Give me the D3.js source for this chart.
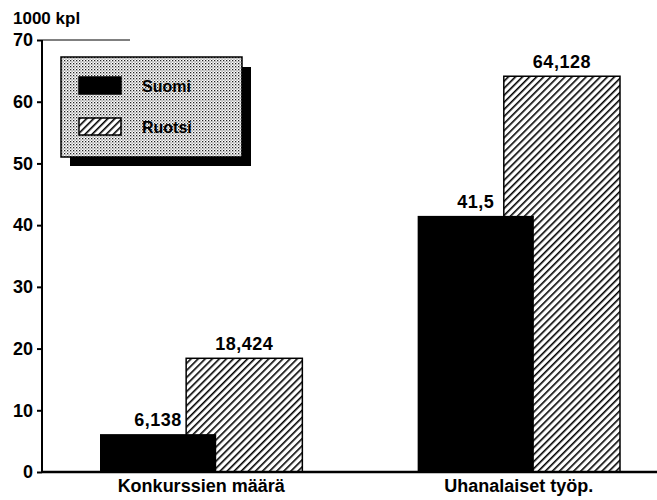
<!DOCTYPE html>
<html>
<head>
<meta charset="utf-8">
<script src="https://cdn.jsdelivr.net/npm/d3@7"></script>
<style>
  body { margin: 0; background: #fff; }
  text { font-family: "Liberation Sans", Arial, sans-serif; font-weight: bold; fill: #000; }
</style>
</head>
<body>
<svg width="657" height="500"></svg>
<script>
const categories = ["Konkurssien määrä", "Uhanalaiset työp."]
const series = ["Suomi", "Ruotsi"]
const suomi = [6.138, 41.5]
const ruotsi = [18.424, 64.128]
const suomiLabels = ["6,138", "41,5"]
const ruotsiLabels = ["18,424", "64,128"]
const yTicks = [0, 10, 20, 30, 40, 50, 60, 70]
const unitLabel = "1000 kpl"

const svg = d3.select("svg")
const width = +svg.attr("width")
const height = +svg.attr("height")

const margin = {top: 40, right: 0, bottom: 28, left: 42}
const innerWidth = width - margin.left - margin.right
const innerHeight = height - margin.top - margin.bottom

svg.append("rect").attr("width", width).attr("height", height).attr("fill", "#fff")

const defs = svg.append("defs")
const hatch = defs.append("pattern")
  .attr("id", "hatch")
  .attr("patternUnits", "userSpaceOnUse")
  .attr("width", 5).attr("height", 5)
  .attr("patternTransform", "rotate(45)")
hatch.append("rect").attr("width", 5).attr("height", 5).attr("fill", "#fff")
hatch.append("line")
  .attr("x1", 0).attr("y1", 0).attr("x2", 0).attr("y2", 5)
  .attr("stroke", "#000").attr("stroke-width", 3.2)

const dots = defs.append("pattern")
  .attr("id", "dots")
  .attr("patternUnits", "userSpaceOnUse")
  .attr("width", 3).attr("height", 3)
dots.append("rect").attr("width", 3).attr("height", 3).attr("fill", "#fff")
dots.append("rect").attr("x", 0).attr("y", 0).attr("width", 1.3).attr("height", 1.3).attr("fill", "#222")
dots.append("rect").attr("x", 1.5).attr("y", 1.5).attr("width", 1.1).attr("height", 1.1).attr("fill", "#555")

const g = svg.append("g")
  .attr("transform", `translate(${margin.left}, ${margin.top})`)

const yScale = d3.scaleLinear()
  .domain([0, 70])
  .range([innerHeight, 0])

const xScale = d3.scaleBand()
  .domain(categories)
  .range([58, 578])
  .paddingInner(0.363)
  .paddingOuter(0)

// bars in a group overlap: black one sits over the hatched one
const barWidth = xScale.bandwidth() * 116 / 202
const ruotsiOffset = xScale.bandwidth() * 86 / 202

const yAxis = d3.axisLeft(yScale)
  .tickValues(yTicks)
  .tickSize(5)
  .tickPadding(4)

const yAxisG = g.append("g").call(yAxis)
yAxisG.select(".domain").remove()
yAxisG.selectAll(".tick line").attr("stroke", "#000").attr("stroke-width", 2)
yAxisG.selectAll(".tick text").style("font-size", "18px")

g.append("line")
  .attr("x1", 0).attr("x2", 0)
  .attr("y1", 0).attr("y2", innerHeight)
  .attr("stroke", "#000").attr("stroke-width", 2)

g.append("line")
  .attr("x1", 0).attr("x2", 88)
  .attr("y1", 0).attr("y2", 0)
  .attr("stroke", "#000").attr("stroke-width", 1)

g.selectAll(".ruotsi").data(ruotsi)
  .enter().append("rect")
  .attr("class", "ruotsi")
  .attr("x", (d, i) => xScale(categories[i]) + ruotsiOffset)
  .attr("y", d => yScale(d))
  .attr("width", barWidth)
  .attr("height", d => innerHeight - yScale(d))
  .attr("fill", "url(#hatch)")
  .attr("stroke", "#000")
  .attr("stroke-width", 1.5)

g.selectAll(".suomi").data(suomi)
  .enter().append("rect")
  .attr("class", "suomi")
  .attr("x", (d, i) => xScale(categories[i]))
  .attr("y", d => yScale(d))
  .attr("width", barWidth)
  .attr("height", d => innerHeight - yScale(d))
  .attr("fill", "#000")

g.append("line")
  .attr("x1", 0).attr("x2", innerWidth)
  .attr("y1", innerHeight).attr("y2", innerHeight)
  .attr("stroke", "#000").attr("stroke-width", 2.5)

g.selectAll(".suomi-label").data(suomi)
  .enter().append("text")
  .attr("x", (d, i) => xScale(categories[i]) + barWidth / 2)
  .attr("y", d => yScale(d) - 8)
  .attr("text-anchor", "middle")
  .style("font-size", "18px")
  .style("letter-spacing", "0.5px")
  .text((d, i) => suomiLabels[i])

g.selectAll(".ruotsi-label").data(ruotsi)
  .enter().append("text")
  .attr("x", (d, i) => xScale(categories[i]) + ruotsiOffset + barWidth / 2)
  .attr("y", d => yScale(d) - 8)
  .attr("text-anchor", "middle")
  .style("font-size", "18px")
  .style("letter-spacing", "0.5px")
  .text((d, i) => ruotsiLabels[i])

g.selectAll(".cat-label").data(categories)
  .enter().append("text")
  .attr("x", d => xScale(d) + xScale.bandwidth() / 2)
  .attr("y", innerHeight + 20)
  .attr("text-anchor", "middle")
  .style("font-size", "18px")
  .text(d => d)

svg.append("text")
  .attr("x", 13)
  .attr("y", 24)
  .style("font-size", "17px")
  .text(unitLabel)

// legend
const legend = svg.append("g").attr("transform", "translate(61, 57)")
legend.append("rect")
  .attr("x", 9).attr("y", 10)
  .attr("width", 181).attr("height", 99)
  .attr("fill", "#000")
legend.append("rect")
  .attr("width", 181).attr("height", 100)
  .attr("fill", "url(#dots)")
  .attr("stroke", "#000").attr("stroke-width", 1.5)

const legendItems = legend.selectAll(".item").data(series)
  .enter().append("g")
  .attr("transform", (d, i) => `translate(18, ${20 + i * 41})`)
legendItems.append("rect")
  .attr("width", 42).attr("height", 17)
  .attr("fill", (d, i) => i === 0 ? "#000" : "url(#hatch)")
  .attr("stroke", "#000").attr("stroke-width", 1.5)
legendItems.append("text")
  .attr("x", 63).attr("y", 15)
  .style("font-size", "16px")
  .text(d => d)
</script>
</body>
</html>
